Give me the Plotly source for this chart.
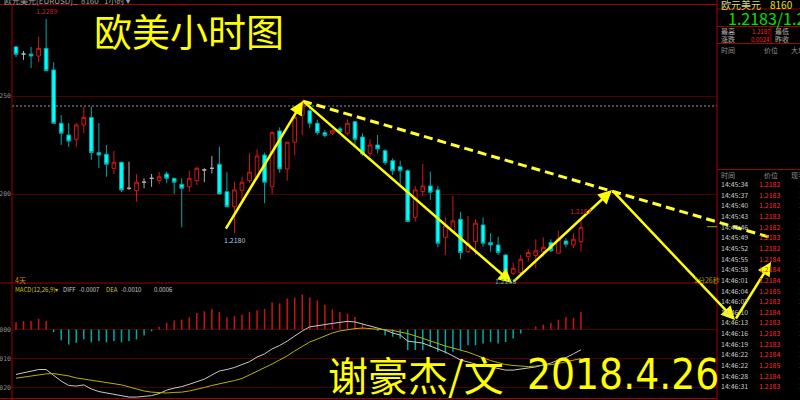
import plotly.graph_objects as go

# ---------------- data ----------------
opens = [1.22751, 1.22714, 1.22714, 1.22704, 1.22743, 1.22633, 1.22361, 1.22301, 1.22279, 1.22352,
         1.22391, 1.22211, 1.22203, 1.22131, 1.22162, 1.22029, 1.22017, 1.22060, 1.22080, 1.22068,
         1.22102, 1.22080, 1.22050, 1.22037, 1.22068, 1.22123, 1.22131, 1.22152, 1.22012, 1.21935,
         1.22019, 1.22068, 1.22085, 1.22199, 1.22037, 1.22322, 1.22128, 1.22264, 1.22403, 1.22425,
         1.22361, 1.22313, 1.22310, 1.22332, 1.22310, 1.22369, 1.22291, 1.22208, 1.22250, 1.22221,
         1.22170, 1.22139, 1.22119, 1.21881, 1.22012, 1.22041, 1.22021, 1.21779, 1.21808, 1.21871,
         1.21706, 1.21757, 1.21842, 1.21752, 1.21740, 1.21689, 1.21595, 1.21599, 1.21680, 1.21686,
         1.21706, 1.21752, 1.21698, 1.21760, 1.21740, 1.21757]
highs = [1.22755, 1.22730, 1.22750, 1.22802, 1.22893, 1.22673, 1.22403, 1.22362, 1.22364, 1.22445,
         1.22445, 1.22362, 1.22250, 1.22221, 1.22165, 1.22165, 1.22101, 1.22080, 1.22102, 1.22112,
         1.22114, 1.22082, 1.22080, 1.22119, 1.22139, 1.22131, 1.22194, 1.22241, 1.22111, 1.22063,
         1.22088, 1.22208, 1.22228, 1.22211, 1.22318, 1.22340, 1.22265, 1.22437, 1.22480, 1.22471,
         1.22378, 1.22327, 1.22330, 1.22343, 1.22381, 1.22372, 1.22310, 1.22279, 1.22301, 1.22228,
         1.22182, 1.22170, 1.22126, 1.22041, 1.22153, 1.22114, 1.22041, 1.21881, 1.21990, 1.21910,
         1.21888, 1.21871, 1.21881, 1.21800, 1.21782, 1.21694, 1.21650, 1.21689, 1.21718, 1.21769,
         1.21779, 1.21769, 1.21812, 1.21774, 1.21800, 1.21870]
lows = [1.22699, 1.22684, 1.22643, 1.22672, 1.22628, 1.22360, 1.22250, 1.22240, 1.22241, 1.22310,
        1.22174, 1.22133, 1.22088, 1.22102, 1.22010, 1.22021, 1.21961, 1.22029, 1.22037, 1.22051,
        1.22055, 1.22000, 1.21830, 1.22012, 1.22046, 1.22060, 1.22106, 1.21998, 1.21934, 1.21800,
        1.21970, 1.22055, 1.22072, 1.21953, 1.22000, 1.22109, 1.22068, 1.22199, 1.22301, 1.22335,
        1.22301, 1.22289, 1.22301, 1.22310, 1.22301, 1.22241, 1.22194, 1.22190, 1.22208, 1.22148,
        1.22097, 1.22051, 1.21857, 1.21859, 1.21990, 1.21970, 1.21728, 1.21689, 1.21800, 1.21667,
        1.21698, 1.21689, 1.21731, 1.21706, 1.21689, 1.21580, 1.21585, 1.21587, 1.21655, 1.21621,
        1.21680, 1.21704, 1.21698, 1.21728, 1.21723, 1.21706]
closes = [1.22713, 1.22714, 1.22704, 1.22743, 1.22629, 1.22361, 1.22310, 1.22270, 1.22352, 1.22391,
          1.22211, 1.22199, 1.22152, 1.22162, 1.22021, 1.22029, 1.22060, 1.22060, 1.22080, 1.22088,
          1.22080, 1.22060, 1.22029, 1.22080, 1.22131, 1.22123, 1.22131, 1.22000, 1.21935, 1.22021,
          1.22060, 1.22111, 1.22194, 1.22060, 1.22313, 1.22128, 1.22264, 1.22391, 1.22463, 1.22361,
          1.22313, 1.22298, 1.22322, 1.22318, 1.22361, 1.22279, 1.22204, 1.22250, 1.22230, 1.22160,
          1.22119, 1.22119, 1.21859, 1.22021, 1.22041, 1.22009, 1.21749, 1.21837, 1.21863, 1.21701,
          1.21749, 1.21851, 1.21749, 1.21740, 1.21701, 1.21600, 1.21621, 1.21667, 1.21701, 1.21710,
          1.21728, 1.21711, 1.21769, 1.21744, 1.21769, 1.21830]

macd_hist = [0.00025, 0.00029, 0.00029, 0.00037, 0.00029, -0.00009, -0.00037, -0.00052, -0.00046, -0.00034,
             -0.00044, -0.00040, -0.00044, -0.00040, -0.00044, -0.00040, -0.00034, -0.00021, -0.00006, 0.00009,
             0.00023, 0.00031, 0.00034, 0.00042, 0.00057, 0.00063, 0.00071, 0.00060, 0.00042, 0.00046,
             0.00052, 0.00060, 0.00066, 0.00071, 0.00094, 0.00090, 0.00107, 0.00110, 0.00121, 0.00110,
             0.00100, 0.00085, 0.00069, 0.00060, 0.00055, 0.00043, 0.00020, 0.00005, -0.00005, -0.00020,
             -0.00025, -0.00031, -0.00071, -0.00071, -0.00071, -0.00060, -0.00077, -0.00083, -0.00077, -0.00071,
             -0.00054, -0.00054, -0.00048, -0.00043, -0.00048, -0.00043, -0.00031, -0.00014, 0.00003, 0.00010,
             0.00017, 0.00023, 0.00034, 0.00043, 0.00040, 0.00060]
diff_line = [-0.00155, -0.00150, -0.00145, -0.00138, -0.00138, -0.00157, -0.00178, -0.00193, -0.00195, -0.00191,
             -0.00205, -0.00214, -0.00219, -0.00224, -0.00229, -0.00233, -0.00233, -0.00231, -0.00228, -0.00221,
             -0.00209, -0.00202, -0.00197, -0.00189, -0.00181, -0.00171, -0.00157, -0.00143, -0.00138, -0.00131,
             -0.00121, -0.00111, -0.00095, -0.00084, -0.00067, -0.00055, -0.00040, -0.00022, -0.00005, 0.00009,
             0.00014, 0.00017, 0.00021, 0.00024, 0.00028, 0.00026, 0.00019, 0.00014, 0.00007, -0.00002,
             -0.00012, -0.00019, -0.00040, -0.00043, -0.00047, -0.00057, -0.00067, -0.00078, -0.00091, -0.00105,
             -0.00112, -0.00119, -0.00126, -0.00129, -0.00134, -0.00140, -0.00140, -0.00136, -0.00133, -0.00129,
             -0.00122, -0.00116, -0.00105, -0.00097, -0.00084, -0.00070]
dea_line = [-0.00168, -0.00164, -0.00160, -0.00157, -0.00153, -0.00152, -0.00155, -0.00160, -0.00167, -0.00171,
            -0.00174, -0.00178, -0.00181, -0.00186, -0.00191, -0.00198, -0.00205, -0.00212, -0.00216, -0.00218,
            -0.00219, -0.00217, -0.00216, -0.00212, -0.00207, -0.00200, -0.00193, -0.00188, -0.00181, -0.00176,
            -0.00169, -0.00157, -0.00145, -0.00133, -0.00119, -0.00105, -0.00091, -0.00074, -0.00059, -0.00043,
            -0.00033, -0.00022, -0.00012, -0.00005, 0.00000, 0.00003, 0.00005, 0.00003, 0.00002, 0.00000,
            -0.00003, -0.00009, -0.00014, -0.00022, -0.00031, -0.00040, -0.00048, -0.00057, -0.00064, -0.00071,
            -0.00078, -0.00088, -0.00098, -0.00107, -0.00114, -0.00121, -0.00124, -0.00126, -0.00128, -0.00126,
            -0.00124, -0.00121, -0.00117, -0.00112, -0.00107, -0.00100]

prev_close = 1.22449
last_price = 1.21833

# analyst drawing: solid zig-zag path (bar index, price) and dashed trend line
path_idx = [27.74, 38.10, 65.84, 79.12, 95.45, 100.23]
path_price = [1.21816, 1.22474, 1.21546, 1.22020, 1.21357, 1.21653]
trend_idx = [38.10, 100.36]
trend_price = [1.22474, 1.21776]

tick_times = ["14:45:34", "14:45:37", "14:45:40", "14:45:43", "14:45:46", "14:45:49", "14:45:52",
              "14:45:55", "14:45:58", "14:46:01", "14:46:04", "14:46:07", "14:46:10", "14:46:13",
              "14:46:16", "14:46:19", "14:46:22", "14:46:22", "14:46:28", "14:46:31"]
tick_prices = ["1.2182", "1.2183", "1.2182", "1.2183", "1.2182", "1.2183", "1.2182", "1.2184",
               "1.2184", "1.2184", "1.2185", "1.2183", "1.2184", "1.2183", "1.2183", "1.2183",
               "1.2184", "1.2185", "1.2184", "1.2183"]

# ---------------- geometry (pixels) ----------------
W, H = 800, 400
X0, X1 = 12, 717
MAIN_TOP, MAIN_BOT = 4.5, 283
MACD_TOP, MACD_BOT = 283, 400
C0_PX, STEP = 16, 7.533
REF_PX, REF_PRICE, PX_PER_PRICE = 96, 1.2250, 19600
ZERO_PX, PX_PER_MACD = 329.5, 29000

def fx(px): return px / W
def fy(py): return 1 - py / H
def idx_at(px): return (px - C0_PX) / STEP
def price_at(py): return REF_PRICE + (REF_PX - py) / PX_PER_PRICE
def macd_at(py): return (ZERO_PX - py) / PX_PER_MACD

FONT = "Noto Sans CJK SC"
RED_FRAME = "#a00000"
GRID = "#4c0000"

n = len(opens)
xs = list(range(n))
up = [i for i in xs if closes[i] > opens[i]]
dn = [i for i in xs if closes[i] < opens[i]]
dj = [i for i in xs if closes[i] == opens[i]]

def sel(arr, ids): return [arr[i] for i in ids]

fig = go.Figure()

def candle(ids, line_inc, fill_inc, line_dec, fill_dec):
    fig.add_trace(go.Candlestick(
        x=ids, open=sel(opens, ids), high=sel(highs, ids), low=sel(lows, ids), close=sel(closes, ids),
        increasing=dict(line=dict(color=line_inc, width=1), fillcolor=fill_inc),
        decreasing=dict(line=dict(color=line_dec, width=1), fillcolor=fill_dec),
        whiskerwidth=0, hoverinfo="skip", showlegend=False, xaxis="x", yaxis="y"))

candle(up, "#d01818", "#000000", "#d01818", "#000000")
candle(dn, "#00a8a8", "#00ffff", "#00a8a8", "#00ffff")
candle(dj, "#b0b0b0", "#b0b0b0", "#b0b0b0", "#b0b0b0")

# MACD
fig.add_trace(go.Bar(x=xs, y=macd_hist, width=0.2,
                     marker=dict(color=["#c81414" if v >= 0 else "#00a8a8" for v in macd_hist], line=dict(width=0)),
                     xaxis="x2", yaxis="y2", showlegend=False, hoverinfo="skip"))
fig.add_trace(go.Scatter(x=xs, y=diff_line, mode="lines", line=dict(color="#c8c8c8", width=1),
                         xaxis="x2", yaxis="y2", showlegend=False, hoverinfo="skip"))
fig.add_trace(go.Scatter(x=xs, y=dea_line, mode="lines", line=dict(color="#b4b400", width=1),
                         xaxis="x2", yaxis="y2", showlegend=False, hoverinfo="skip"))

# dashed trend line on full-figure overlay axes
fig.add_trace(go.Scatter(x=trend_idx, y=trend_price, mode="lines",
                         line=dict(color="#ffff33", width=3, dash="9px,5px"),
                         xaxis="x3", yaxis="y3", showlegend=False, hoverinfo="skip"))

shapes = []
def line(x0, y0, x1, y1, color=RED_FRAME, width=1, dash="solid"):
    shapes.append(dict(type="line", xref="paper", yref="paper", x0=fx(x0), y0=fy(y0), x1=fx(x1), y1=fy(y1),
                       line=dict(color=color, width=width, dash=dash), layer="above"))

line(0, MAIN_TOP, X1, MAIN_TOP)
line(X0, MAIN_TOP, X0, 400)
line(X1, 0, X1, 400)
line(0, MAIN_BOT, X1, MAIN_BOT)
line(0, 398.5, X1, 398.5)
# right panel frame
line(X1, 9, 800, 9)
line(X1, 26.5, 800, 26.5)
line(X1, 43.5, 800, 43.5)
line(771, 26.5, 771, 43.5)
line(X1, 169.5, 800, 169.5)
# previous close dotted line
shapes.append(dict(type="line", xref="paper", yref="y", x0=fx(X0), x1=fx(X1), y0=prev_close, y1=prev_close,
                   line=dict(color="#9a9a9a", width=1, dash="2px,2px"), layer="below"))
# current price marker
shapes.append(dict(type="line", xref="paper", yref="y", x0=fx(707), x1=fx(X1), y0=last_price, y1=last_price,
                   line=dict(color="#a0a000", width=1), layer="above"))

ann = []
def text(t, x, y, size=7, color="#b0b0b0", anchor="left", family=FONT, **kw):
    ann.append(dict(text=t, xref="paper", yref="paper", x=fx(x), y=fy(y), xanchor=anchor, yanchor="middle",
                    showarrow=False, font=dict(size=size, color=color, family=family), **kw))

# solid zig-zag arrows
for i in range(1, len(path_idx)):
    ann.append(dict(text="", x=path_idx[i], y=path_price[i], ax=path_idx[i - 1], ay=path_price[i - 1],
                    xref="x3", yref="y3", axref="x3", ayref="y3", showarrow=True,
                    arrowhead=2, arrowsize=1.1, arrowwidth=2.5, arrowcolor="#ffff00", standoff=0))

# extreme labels
ann.append(dict(text="1.2289", x=4, y=highs[4], xref="x", yref="y", yanchor="bottom", showarrow=False,
                yshift=1, font=dict(size=7, color="#d02020", family=FONT)))
ann.append(dict(text="1.2180", x=29, y=lows[29], xref="x", yref="y", yanchor="top", showarrow=False,
                yshift=0, font=dict(size=7, color="#a8c8e8", family=FONT)))
ann.append(dict(text="1.2187", x=75, y=highs[75], xref="x", yref="y", yanchor="bottom", showarrow=False,
                yshift=1, font=dict(size=7, color="#d02020", family=FONT)))
ann.append(dict(text="1.2158", x=65, y=lows[65], xref="x", yref="y", yanchor="top", showarrow=False,
                yshift=2, font=dict(size=7, color="#30c0c0", family=FONT)))

# titles
text("欧美小时图", 92, 29, size=38, color="#ffff00")
text("谢豪杰/文", 326, 374, size=40, color="#ffff00")
text("2018.4.26", 721, 374, size=42, color="#ffff00", anchor="right",
     family="Liberation Sans Narrow, DejaVu Sans Condensed, Roboto, sans-serif")

# header / labels
text("欧元美元(EURUSD)_  8160   1小时 ▾", 2, 0.5, size=8, color="#a0a0a0")
text("4天", 13, 279.5, size=7, color="#c89000")
text("MACD(12,26,9)▾", 13, 289, size=6, color="#c8c800")
text("DIFF", 61, 289, size=6, color="#c8c8c8")
text("-0.0007", 77, 289, size=6, color="#c8c8c8")
text("DEA", 104, 289, size=6, color="#c8c800")
text("-0.0010", 119, 289, size=6, color="#c8c8c8")
text("0.0006", 152, 289, size=6, color="#c8c8c8")
text("1分26秒", 692, 280, size=7, color="#a0a000")

# right panel
text("欧元美元", 719, 4, size=10, color="#d8d870")
text("8160", 768, 4, size=10, color="#e0e000")
text("1.2183/1.21", 726, 18, size=16, color="#00e000")
text("最高", 719, 31, size=7)
text("1.2187", 750, 31, size=6, color="#ff2020")
text("最低", 773, 31, size=7)
text("涨跌", 719, 39, size=7)
text("0.0024", 749, 39, size=6, color="#ff2020")
text("昨收", 773, 39, size=7)
text("时间", 719, 50, size=7, color="#909090")
text("价位", 762, 50, size=7, color="#909090")
text("大单", 789, 50, size=7, color="#909090")
text("时间", 719, 174.5, size=7, color="#909090")
text("价位", 762, 174.5, size=7, color="#909090")
text("现手", 789, 174.5, size=7, color="#909090")
for k, (t, p) in enumerate(zip(tick_times, tick_prices)):
    yrow = 184 + k * 10.65
    text(t, 719, yrow, size=7, color="#c8c8c8")
    text(p, 757, yrow, size=7, color="#ff2828")
    text("1", 797, yrow, size=7, color="#00c000")

main_dom_x = [fx(X0), fx(X1)]
fig.update_layout(
    template="none",
    width=W, height=H, margin=dict(l=0, r=0, t=0, b=0, pad=0, autoexpand=False),
    paper_bgcolor="#000000", plot_bgcolor="rgba(0,0,0,0)",
    showlegend=False, hovermode=False,
    xaxis=dict(domain=main_dom_x, range=[idx_at(X0), idx_at(X1)], visible=False,
               rangeslider=dict(visible=False), anchor="y", automargin=False),
    yaxis=dict(domain=[fy(MAIN_BOT), fy(MAIN_TOP)], range=[price_at(MAIN_BOT), price_at(MAIN_TOP)],
               anchor="x", tickvals=[1.2200, 1.2250], ticktext=["1.2200", "1.2250"], automargin=False,
               tickfont=dict(size=6.5, color="#8a8a8a", family="DejaVu Sans Mono"),
               showgrid=True, gridcolor=GRID, gridwidth=1, zeroline=False, showline=False, ticks=""),
    xaxis2=dict(domain=main_dom_x, range=[idx_at(X0), idx_at(X1)], visible=False, anchor="y2", automargin=False),
    yaxis2=dict(domain=[fy(MACD_BOT), fy(MACD_TOP)], range=[macd_at(MACD_BOT), macd_at(MACD_TOP)],
                anchor="x2", tickvals=[0, -0.001, -0.002], ticktext=["0.0000", "0.0010", "0.0020"],
                automargin=False, tickfont=dict(size=6.5, color="#8a8a8a", family="DejaVu Sans Mono"),
                showgrid=True, gridcolor=GRID, gridwidth=1, zeroline=False, showline=False, ticks=""),
    xaxis3=dict(domain=[0, 1], range=[idx_at(0), idx_at(W)], visible=False, anchor="y3", automargin=False),
    yaxis3=dict(domain=[0, 1], range=[price_at(H), price_at(0)], visible=False, anchor="x3", automargin=False),
    shapes=shapes, annotations=ann,
)

fig.write_html("out.html", config={"displayModeBar": False, "staticPlot": True},
               post_script="document.body.style.margin='0px';document.body.style.background='#000';")
